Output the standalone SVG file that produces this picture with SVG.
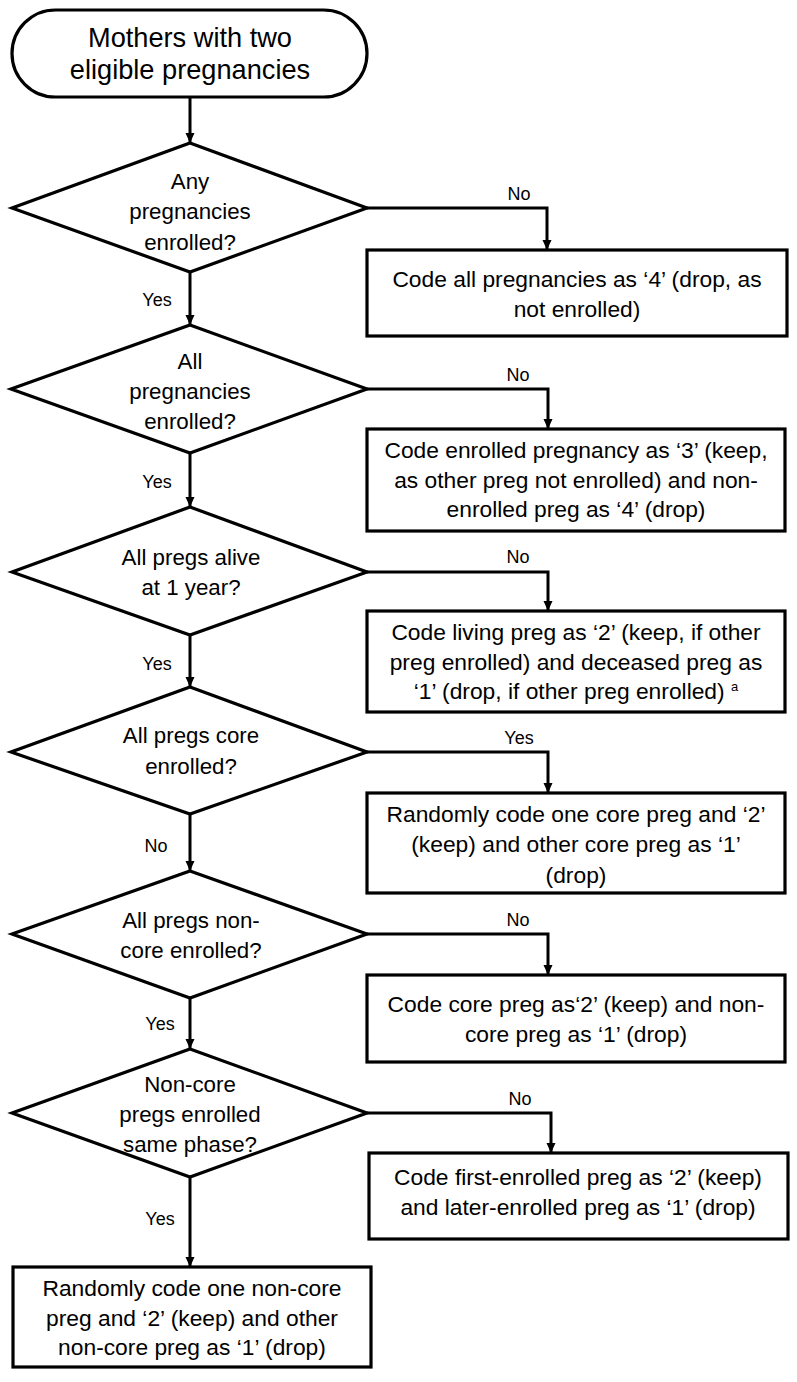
<svg xmlns="http://www.w3.org/2000/svg" width="797" height="1382" viewBox="0 0 797 1382">
<defs>
<style>
.shape{fill:#fff;stroke:#000;stroke-width:3.2}
.con{fill:none;stroke:#000;stroke-width:3}
text{font-family:"Liberation Sans",Arial,sans-serif;fill:#000;text-anchor:middle}
.title{font-size:27.2px}
.box{font-size:22.8px}
.dia{font-size:22.3px}
.lbl{font-size:18px}
</style>
<marker id="arr" markerUnits="userSpaceOnUse" markerWidth="12" markerHeight="12" viewBox="0 0 12 12" refX="11" refY="6" orient="auto">
<path d="M1,1.5 L11,6 L1,10.5 Z" fill="#000"/>
</marker>
</defs>
<rect width="797" height="1382" fill="#fff"/>

<g id="connectors">
<line class="con" x1="190" y1="97" x2="190" y2="143" marker-end="url(#arr)"/>
<line class="con" x1="190" y1="272" x2="190" y2="325" marker-end="url(#arr)"/>
<line class="con" x1="190" y1="453" x2="190" y2="507" marker-end="url(#arr)"/>
<line class="con" x1="190" y1="635" x2="190" y2="687" marker-end="url(#arr)"/>
<line class="con" x1="190" y1="814" x2="190" y2="871" marker-end="url(#arr)"/>
<line class="con" x1="190" y1="998" x2="190" y2="1049" marker-end="url(#arr)"/>
<line class="con" x1="190" y1="1177" x2="190" y2="1267" marker-end="url(#arr)"/>
<polyline class="con" points="367,208 547,208 547,250" marker-end="url(#arr)"/>
<polyline class="con" points="367,389 548,389 548,429" marker-end="url(#arr)"/>
<polyline class="con" points="367,572 548,572 548,611" marker-end="url(#arr)"/>
<polyline class="con" points="367,752 548,752 548,793" marker-end="url(#arr)"/>
<polyline class="con" points="367,934 548,934 548,975" marker-end="url(#arr)"/>
<polyline class="con" points="367,1113 551,1113 551,1153" marker-end="url(#arr)"/>
<text class="lbl" x="157" y="306">Yes</text>
<text class="lbl" x="157" y="488">Yes</text>
<text class="lbl" x="157" y="670">Yes</text>
<text class="lbl" x="156" y="852">No</text>
<text class="lbl" x="160" y="1030">Yes</text>
<text class="lbl" x="160" y="1225">Yes</text>
<text class="lbl" x="519" y="200">No</text>
<text class="lbl" x="518" y="381">No</text>
<text class="lbl" x="518" y="563">No</text>
<text class="lbl" x="519" y="744">Yes</text>
<text class="lbl" x="518" y="926">No</text>
<text class="lbl" x="520" y="1105">No</text>
</g>

<g id="start">
<rect class="shape" x="12" y="10" width="355" height="87" rx="43.5" ry="43.5"/>
<text class="title" x="190" y="47">Mothers with two</text>
<text class="title" x="190" y="79">eligible pregnancies</text>
</g>

<g id="d1">
<polygon class="shape" points="190,143 367,208 190,272 12,208"/>
<text class="dia" x="190" y="189">Any</text>
<text class="dia" x="190" y="219">pregnancies</text>
<text class="dia" x="190" y="250">enrolled?</text>
</g>

<g id="d2">
<polygon class="shape" points="190,325 367,389 190,453 11,389"/>
<text class="dia" x="190" y="369">All</text>
<text class="dia" x="190" y="399">pregnancies</text>
<text class="dia" x="190" y="429">enrolled?</text>
</g>

<g id="d3">
<polygon class="shape" points="190,507 367,572 190,635 12,572"/>
<text class="dia" x="191" y="565">All pregs alive</text>
<text class="dia" x="191" y="595">at 1 year?</text>
</g>

<g id="d4">
<polygon class="shape" points="190,687 367,752 190,814 11,752"/>
<text class="dia" x="191" y="743">All pregs core</text>
<text class="dia" x="191" y="774">enrolled?</text>
</g>

<g id="d5">
<polygon class="shape" points="190,871 367,934 190,998 12,934"/>
<text class="dia" x="191" y="928">All pregs non-</text>
<text class="dia" x="191" y="958">core enrolled?</text>
</g>

<g id="d6">
<polygon class="shape" points="190,1049 367,1113 190,1177 12,1113"/>
<text class="dia" x="190" y="1092">Non-core</text>
<text class="dia" x="190" y="1122">pregs enrolled</text>
<text class="dia" x="190" y="1152">same phase?</text>
</g>

<g id="b1">
<rect class="shape" x="367" y="250" width="420" height="86"/>
<text class="box" x="577" y="287">Code all pregnancies as ‘4’ (drop, as</text>
<text class="box" x="577" y="317">not enrolled)</text>
</g>

<g id="b2">
<rect class="shape" x="367" y="429" width="418" height="102"/>
<text class="box" x="576" y="458">Code enrolled pregnancy as ‘3’ (keep,</text>
<text class="box" x="576" y="488">as other preg not enrolled) and non-</text>
<text class="box" x="576" y="517">enrolled preg as ‘4’ (drop)</text>
</g>

<g id="b3">
<rect class="shape" x="367" y="611" width="418" height="101"/>
<text class="box" x="576" y="640">Code living preg as ‘2’ (keep, if other</text>
<text class="box" x="576" y="670">preg enrolled) and deceased preg as</text>
<text class="box" x="576" y="699">‘1’ (drop, if other preg enrolled) <tspan font-size="13" dy="-8">a</tspan></text>
</g>

<g id="b4">
<rect class="shape" x="367" y="793" width="418" height="100"/>
<text class="box" x="576" y="822">Randomly code one core preg and ‘2’</text>
<text class="box" x="576" y="852">(keep) and other core preg as ‘1’</text>
<text class="box" x="576" y="883">(drop)</text>
</g>

<g id="b5">
<rect class="shape" x="367" y="975" width="418" height="87"/>
<text class="box" x="576" y="1012">Code core preg as‘2’ (keep) and non-</text>
<text class="box" x="576" y="1042">core preg as ‘1’ (drop)</text>
</g>

<g id="b6">
<rect class="shape" x="369" y="1153" width="419" height="86"/>
<text class="box" x="578" y="1185">Code first-enrolled preg as ‘2’ (keep)</text>
<text class="box" x="578" y="1215">and later-enrolled preg as ‘1’ (drop)</text>
</g>

<g id="b7">
<rect class="shape" x="13" y="1267" width="358" height="100"/>
<text class="box" x="192" y="1296">Randomly code one non-core</text>
<text class="box" x="192" y="1326">preg and ‘2’ (keep) and other</text>
<text class="box" x="192" y="1355">non-core preg as ‘1’ (drop)</text>
</g>
</svg>
